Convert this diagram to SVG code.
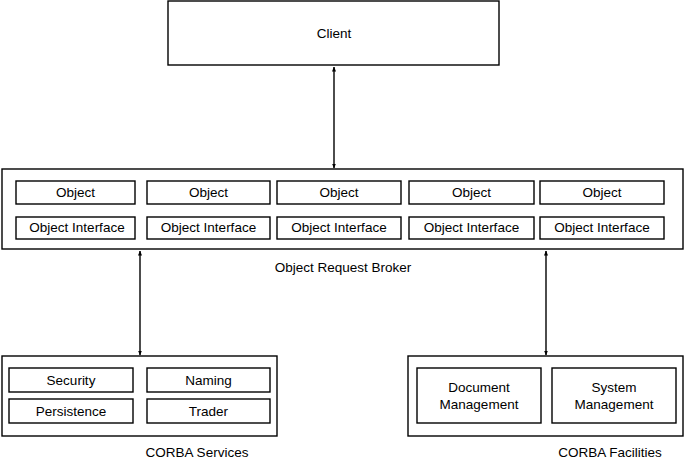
<svg xmlns="http://www.w3.org/2000/svg" width="685" height="466" viewBox="0 0 685 466">
<defs>
<marker id="ah" viewBox="0 0 10 10" refX="9" refY="5" markerWidth="5" markerHeight="5" orient="auto-start-reverse" markerUnits="userSpaceOnUse">
<path d="M0,1 L10,5 L0,9 z" fill="#000"/>
</marker>
<style>
rect{fill:#fff;stroke:#000;stroke-width:1.4}
text{font-family:"Liberation Sans",Arial,sans-serif;font-size:13.5px;fill:#000;text-anchor:middle}
.c{stroke:#000;stroke-width:1.4;fill:none;marker-start:url(#ah);marker-end:url(#ah)}
</style>
</defs>
<rect x="0" y="0" width="685" height="466" style="fill:#fff;stroke:none"/>
<g id="client"><rect x="168" y="1" width="331" height="64"/><text x="334" y="38">Client</text></g>
<g id="orb">
<rect x="2" y="169" width="681" height="80"/>
<text x="343" y="272">Object Request Broker</text>
</g>
<g id="objects">
<rect x="16" y="181" width="119" height="23"/><text x="75.5" y="197">Object</text>
<rect x="147" y="181" width="123" height="23"/><text x="208.5" y="197">Object</text>
<rect x="277" y="181" width="124" height="23"/><text x="339" y="197">Object</text>
<rect x="409" y="181" width="125" height="23"/><text x="471.5" y="197">Object</text>
<rect x="540" y="181" width="124" height="23"/><text x="602" y="197">Object</text>
</g>
<g id="interfaces">
<rect x="16" y="217" width="119" height="22"/><text x="77" y="232">Object Interface</text>
<rect x="147" y="217" width="123" height="22"/><text x="208.5" y="232">Object Interface</text>
<rect x="277" y="217" width="124" height="22"/><text x="339" y="232">Object Interface</text>
<rect x="409" y="217" width="125" height="22"/><text x="471.5" y="232">Object Interface</text>
<rect x="540" y="217" width="124" height="22"/><text x="602" y="232">Object Interface</text>
</g>
<g id="services">
<rect x="2" y="356" width="275" height="80"/>
<rect x="9" y="368" width="124" height="24"/><text x="71" y="385">Security</text>
<rect x="147" y="368" width="123" height="24"/><text x="208.5" y="385">Naming</text>
<rect x="9" y="399" width="124" height="24"/><text x="71" y="416">Persistence</text>
<rect x="147" y="399" width="123" height="24"/><text x="208.5" y="416">Trader</text>
<text x="197" y="457">CORBA Services</text>
</g>
<g id="facilities">
<rect x="408" y="356" width="275" height="80"/>
<rect x="417" y="368" width="124" height="55"/><text x="479" y="392">Document</text><text x="479" y="409">Management</text>
<rect x="552" y="368" width="124" height="55"/><text x="614" y="392">System</text><text x="614" y="409">Management</text>
<text x="610" y="457">CORBA Facilities</text>
</g>
<g id="connectors">
<line class="c" x1="334" y1="67" x2="334" y2="168"/>
<line class="c" x1="140" y1="251" x2="140" y2="355"/>
<line class="c" x1="546" y1="251" x2="546" y2="355"/>
</g>
</svg>
